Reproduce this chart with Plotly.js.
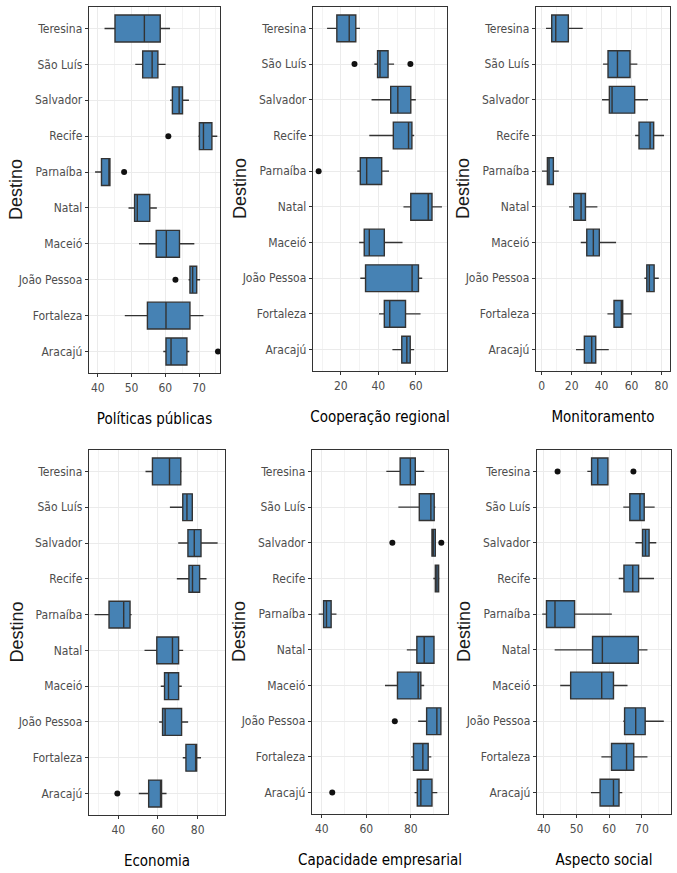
<!DOCTYPE html>
<html>
<head>
<meta charset="utf-8">
<script src="https://cdn.plot.ly/plotly-3.0.1.min.js"></script>
<style>
  html, body { margin: 0; padding: 0; background: #ffffff; }
  #chart { width: 677px; height: 873px; }
</style>
</head>
<body>
<div id="chart"></div>
<script>
// Destinations, listed from top to bottom of every panel
const destinos = ['Teresina', 'São Luís', 'Salvador', 'Recife', 'Parnaíba',
                  'Natal', 'Maceió', 'João Pessoa', 'Fortaleza', 'Aracajú'];

// Políticas públicas: box statistics per destination
const pol_lo  = [42.0, 51.1, 61.4, 69.8, 39.2, 49.1, 52.2, 66.9, 48.0, 59.4];
const pol_q1  = [45.1, 53.3, 62.1, 70.1, 41.1, 50.9, 57.3, 67.3, 54.7, 60.2];
const pol_med = [53.8, 56.1, 64.1, 71.3, 43.3, 51.7, 60.3, 68.1, 60.2, 61.7];
const pol_q3  = [58.5, 57.8, 65.1, 73.8, 43.6, 55.4, 64.2, 69.3, 67.3, 66.4];
const pol_hi  = [61.4, 60.1, 67.0, 75.4, 43.6, 57.5, 68.6, 70.3, 71.3, 67.1];
const pol_outX = [60.9, 47.8, 63.0, 75.6];
const pol_outY = ['Recife', 'Parnaíba', 'João Pessoa', 'Aracajú'];

// Cooperação regional
const coop_lo  = [12.7, 37.9, 36.4, 35.2, 28.8, 53.4, 29.8, 30.4, 40.4, 47.5];
const coop_q1  = [17.9, 39.6, 46.6, 48.0, 30.4, 57.3, 32.5, 33.2, 43.2, 52.5];
const coop_med = [24.5, 40.9, 50.4, 56.1, 33.8, 66.6, 35.2, 58.0, 46.1, 55.2];
const coop_q3  = [28.0, 45.2, 57.3, 57.9, 41.8, 68.6, 43.2, 61.4, 54.5, 57.0];
const coop_hi  = [30.2, 48.4, 60.0, 59.1, 45.7, 73.9, 52.9, 63.4, 62.5, 59.1];
const coop_outX = [27.3, 57.1, 8.2];
const coop_outY = ['São Luís', 'São Luís', 'Parnaíba'];

// Monitoramento
const mon_lo  = [2.9, 41.0, 40.3, 62.4, 0.2, 18.3, 26.1, 68.6, 43.9, 22.9];
const mon_q1  = [6.7, 44.3, 45.2, 65.0, 3.8, 21.4, 30.1, 70.2, 48.3, 28.5];
const mon_med = [9.4, 50.6, 47.0, 72.4, 4.9, 26.3, 34.5, 71.9, 53.2, 33.4];
const mon_q3  = [17.8, 59.0, 62.1, 74.8, 7.8, 29.2, 38.5, 75.1, 54.1, 36.1];
const mon_hi  = [27.4, 63.9, 71.0, 81.7, 11.4, 37.2, 49.7, 78.2, 60.1, 44.8];

// Economia
const eco_lo  = [53.7, 66.0, 70.2, 69.5, 28.0, 53.2, 61.4, 60.6, 72.5, 50.3];
const eco_q1  = [57.2, 72.5, 75.1, 75.6, 35.3, 59.4, 63.3, 62.3, 74.1, 55.3];
const eco_med = [65.8, 74.6, 78.3, 77.4, 42.7, 67.3, 65.3, 63.6, 79.0, 61.4];
const eco_q3  = [71.5, 77.3, 81.7, 81.0, 45.9, 70.4, 70.4, 71.9, 79.5, 61.8];
const eco_hi  = [72.0, 77.3, 90.1, 84.5, 46.7, 72.7, 72.0, 75.2, 81.7, 64.3];
const eco_outX = [39.5];
const eco_outY = ['Aracajú'];

// Capacidade empresarial
const cap_lo  = [69.0, 74.4, 89.2, 90.1, 38.6, 78.2, 68.4, 83.3, 80.2, 81.7];
const cap_q1  = [75.2, 83.8, 89.5, 91.0, 40.8, 82.7, 74.0, 87.1, 81.2, 82.9];
const cap_med = [79.8, 89.0, 90.1, 91.7, 42.1, 86.0, 83.3, 91.7, 85.4, 84.5];
const cap_q3  = [82.0, 90.5, 91.0, 92.5, 44.2, 90.4, 84.5, 93.5, 87.8, 89.5];
const cap_hi  = [86.0, 91.0, 91.0, 92.9, 46.6, 90.7, 86.0, 93.8, 89.2, 91.9];
const cap_outX = [71.7, 93.7, 72.8, 44.7];
const cap_outY = ['Salvador', 'Salvador', 'João Pessoa', 'Aracajú'];

// Aspecto social
const soc_lo  = [53.3, 64.3, 68.0, 62.9, 39.5, 43.3, 45.0, 64.3, 57.6, 54.4];
const soc_q1  = [54.6, 66.3, 70.2, 64.5, 40.8, 54.9, 48.2, 64.7, 60.7, 57.2];
const soc_med = [56.5, 69.4, 71.1, 67.2, 43.4, 57.9, 57.7, 68.1, 65.3, 61.3];
const soc_q3  = [59.6, 70.7, 72.2, 69.0, 49.4, 68.9, 61.3, 71.0, 67.5, 63.0];
const soc_hi  = [59.6, 73.9, 74.4, 73.7, 60.8, 71.7, 65.6, 76.7, 71.7, 64.0];
const soc_outX = [44.2, 67.4];
const soc_outY = ['Teresina', 'Teresina'];

// Panel titles and x tick positions
const panelTitles = ['Políticas públicas', 'Cooperação regional', 'Monitoramento',
                     'Economia', 'Capacidade empresarial', 'Aspecto social'];
const ticks1 = [40, 50, 60, 70];
const ticks2 = [20, 40, 60];
const ticks3 = [0, 20, 40, 60, 80];
const ticks4 = [40, 60, 80];
const ticks5 = [40, 60, 80];
const ticks6 = [40, 50, 60, 70];

const W = 677, H = 873;
const px = v => v / W;
const py = v => 1 - v / H;

// Panel frames in pixels: [left, right, top, bottom], x range, ticks, minor step
const panels = [
  {stats: [pol_lo, pol_q1, pol_med, pol_q3, pol_hi], outX: pol_outX, outY: pol_outY,
   box: [89, 220, 7, 373], range: [37.4, 76.2], ticks: ticks1, minor: 5},
  {stats: [coop_lo, coop_q1, coop_med, coop_q3, coop_hi], outX: coop_outX, outY: coop_outY,
   box: [313, 447, 7, 371], range: [5.2, 76.6], ticks: ticks2, minor: 10},
  {stats: [mon_lo, mon_q1, mon_med, mon_q3, mon_hi], outX: [], outY: [],
   box: [536, 670, 7, 371], range: [-3.8, 85.7], ticks: ticks3, minor: 10},
  {stats: [eco_lo, eco_q1, eco_med, eco_q3, eco_hi], outX: eco_outX, outY: eco_outY,
   box: [89, 225, 450, 815], range: [25.2, 93.8], ticks: ticks4, minor: 10},
  {stats: [cap_lo, cap_q1, cap_med, cap_q3, cap_hi], outX: cap_outX, outY: cap_outY,
   box: [312, 448, 450, 814], range: [35.6, 96.7], ticks: ticks5, minor: 10},
  {stats: [soc_lo, soc_q1, soc_med, soc_q3, soc_hi], outX: soc_outX, outY: soc_outY,
   box: [537, 671, 450, 814], range: [37.9, 78.9], ticks: ticks6, minor: 5}
];

const narrow = '"Liberation Sans Narrow", "DejaVu Sans Condensed", "Liberation Sans", sans-serif';
const tickFont = {family: narrow, size: 12, color: '#4D4D4D'};
const titleFont = {family: narrow, size: 15, color: '#000000'};

const traces = [];
const layout = {
  width: W, height: H,
  margin: {l: 0, r: 0, t: 0, b: 0},
  paper_bgcolor: '#ffffff',
  plot_bgcolor: '#ffffff',
  showlegend: false,
  annotations: []
};

panels.forEach((p, i) => {
  const n = i + 1;
  const xa = 'x' + (n === 1 ? '' : n);
  const ya = 'y' + (n === 1 ? '' : n);
  const [lo, q1, med, q3, hi] = p.stats;

  traces.push({
    type: 'box', orientation: 'h',
    y: destinos, q1: q1, median: med, q3: q3, lowerfence: lo, upperfence: hi,
    boxpoints: false, width: 0.75, whiskerwidth: 0,
    fillcolor: '#4682B4',
    line: {color: '#333333', width: 1.4},
    xaxis: xa, yaxis: ya, hoverinfo: 'skip'
  });
  if (p.outX.length) {
    traces.push({
      type: 'scatter', mode: 'markers',
      x: p.outX, y: p.outY,
      marker: {color: '#111111', size: 6},
      cliponaxis: false,
      xaxis: xa, yaxis: ya, hoverinfo: 'skip'
    });
  }

  const [l, r, t, b] = p.box;
  layout['xaxis' + (n === 1 ? '' : n)] = {
    domain: [px(l), px(r)],
    anchor: ya,
    range: p.range,
    tickmode: 'array', tickvals: p.ticks, ticktext: p.ticks.map(String),
    ticks: 'outside', ticklen: 3, tickcolor: '#333333', tickwidth: 1,
    tickfont: tickFont,
    showgrid: true, gridcolor: '#EBEBEB', gridwidth: 1,
    minor: {dtick: p.minor, tick0: 0, showgrid: true, gridcolor: '#F3F3F3', gridwidth: 1, ticks: ''},
    zeroline: false,
    showline: true, mirror: true, linecolor: '#333333', linewidth: 1.3,
    title: {text: panelTitles[i], font: titleFont, standoff: 19}
  };
  layout['yaxis' + (n === 1 ? '' : n)] = {
    domain: [py(b), py(t)],
    anchor: xa,
    type: 'category',
    categoryorder: 'array', categoryarray: destinos,
    range: [9.6, -0.6],
    ticks: 'outside', ticklen: 3, tickcolor: '#333333', tickwidth: 1,
    tickfont: tickFont,
    showgrid: true, gridcolor: '#EBEBEB', gridwidth: 1,
    zeroline: false,
    showline: true, mirror: true, linecolor: '#333333', linewidth: 1.3
  };

  // Row label for the category axis, placed left of each panel
  layout.annotations.push({
    text: 'Destino', textangle: -90,
    xref: 'paper', yref: 'paper',
    x: px(l - 73), y: py((t + b) / 2),
    xanchor: 'center', yanchor: 'middle', showarrow: false,
    font: {family: '"Liberation Sans", Arial, sans-serif', size: 18, color: '#1A1A1A'}
  });
});

Plotly.newPlot('chart', traces, layout, {staticPlot: true, displayModeBar: false});
</script>
</body>
</html>
